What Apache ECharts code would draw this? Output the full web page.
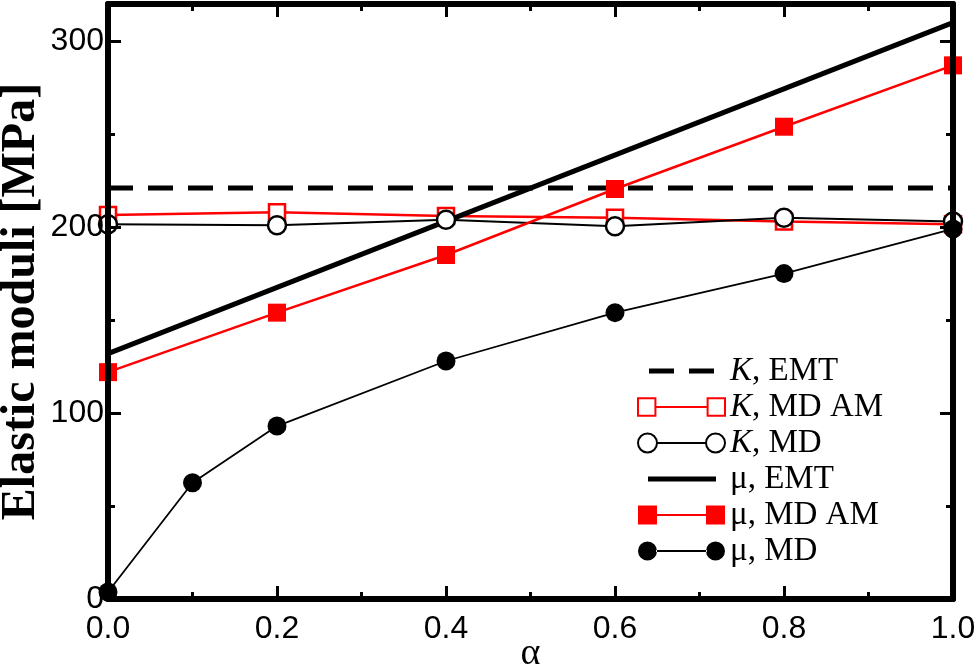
<!DOCTYPE html>
<html>
<head>
    <meta charset="utf-8">
    <title>Elastic moduli</title>
    <script src="https://cdn.jsdelivr.net/npm/echarts@6/dist/echarts.min.js"></script>
    <style>
        html, body { margin: 0; padding: 0; background: #fff; }
    </style>
</head>
<body>
<div id="main" style="width: 978px;height:666px;"></div>
<script>
    // alpha values
    var alphaMD = [0.0, 0.1, 0.2, 0.4, 0.6, 0.8, 1.0];
    var alphaAM = [0.0, 0.2, 0.4, 0.6, 0.8, 1.0];
    var alphaEMT = [0.0, 1.0];

    // (MPa)
    var kEMT = [221, 221];
    var kMDAM = [206.5, 208, 206, 205, 203, 201.5];
    var kMD = [201.5, 201, 204, 200.5, 205, 203];
    var muEMT = [132, 310];
    var muMDAM = [122, 154, 185, 220.5, 254, 287];
    var muMD = [3.8, 62.5, 93, 128, 154, 175, 199];

    var xTicks = ['0.0', '0.2', '0.4', '0.6', '0.8', '1.0'];
    var legendNames = ['K, EMT', 'K, MD AM', 'K, MD', 'μ, EMT', 'μ, MD AM', 'μ, MD'];

    function pairs(xs, ys) {
        var out = [];
        for (var i = 0; i < xs.length; i++) {
            out.push([xs[i], ys[i]]);
        }
        return out;
    }

    var tickFont = 'Liberation Sans';
    var serif = 'Liberation Serif';

    // legend icons: symbol - line - symbol, like the original plot
    var circ = function (x) { return 'M' + x + ',9.5a9.5,9.5 0 1,0 19,0a9.5,9.5 0 1,0 -19,0z'; };
    var icons = {
        dash: 'M0,7 L0.01,7z M11,7h25v5h-25z M51,7h25v5h-25z M87,7 L87.01,7z',
        solid: 'M0,7 L0.01,7z M10,7h68v5h-68z M87,7 L87.01,7z',
        openSq: 'M1,1h17v17h-17z M18,9.5h51v0.01h-51z M69,1h17v17h-17z',
        openCirc: circ(0) + ' M19,9.5h49v0.01h-49z ' + circ(68),
        fillSq: 'M0,0h19v19h-19z M19,8.5h49v2h-49z M68,0h19v19h-19z',
        fillCirc: circ(0) + ' M18,8.6h51v1.8h-51z ' + circ(68)
    };

    var frameLine = { show: true, onZero: false, lineStyle: { color: '#000', width: 6 } };

    function xAx(pos, labels) {
        return {
            type: 'value', position: pos, min: 0, max: 1, interval: 0.2, z: 5,
            axisLine: frameLine,
            axisTick: { inside: true, length: 13, lineStyle: { color: '#000', width: 3 } },
            minorTick: { show: true, splitNumber: 2, length: 7, lineStyle: { color: '#000', width: 3 } },
            splitLine: { show: false },
            axisLabel: {
                show: labels, margin: 14, color: '#000', fontFamily: tickFont, fontSize: 32,
                formatter: function (v) { return xTicks[Math.round(v / 0.2)]; }
            },
            name: labels ? 'α' : '', nameLocation: 'middle', nameGap: 36, nameMoveOverlap: false,
            nameTextStyle: { fontFamily: serif, fontSize: 38, color: '#000' }
        };
    }

    function yAx(pos, major, labels) {
        return {
            type: 'value', position: pos, min: 0, max: 320, interval: major ? 100 : 50, z: 5,
            axisLine: major ? frameLine : { show: false, onZero: false },
            axisTick: { inside: true, length: major ? 13 : 7, lineStyle: { color: '#000', width: 3 } },
            splitLine: { show: false },
            axisLabel: {
                show: labels, showMaxLabel: false, margin: 4, color: '#000',
                fontFamily: tickFont, fontSize: 32
            },
            name: labels ? 'Elastic moduli [MPa]' : '', nameLocation: 'middle', nameGap: 62, nameMoveOverlap: false,
            nameTextStyle: { fontFamily: serif, fontSize: 48, fontWeight: 'bold', color: '#000' }
        };
    }

    var myChart = echarts.init(document.getElementById('main'));
    var option = {
        animation: false,
        backgroundColor: '#fff',
        grid: { left: 108, right: 25, top: 4, bottom: 67, outerBoundsMode: 'none', containLabel: false },
        legend: {
            orient: 'vertical',
            left: 632,
            top: 349,
            itemWidth: 87,
            itemHeight: 19,
            itemGap: 2,
            data: [
                { name: legendNames[0], icon: 'path://' + icons.dash },
                { name: legendNames[1], icon: 'path://' + icons.openSq },
                { name: legendNames[2], icon: 'path://' + icons.openCirc },
                { name: legendNames[3], icon: 'path://' + icons.solid },
                { name: legendNames[4], icon: 'path://' + icons.fillSq },
                { name: legendNames[5], icon: 'path://' + icons.fillCirc }
            ],
            formatter: function (name) {
                if (name.charAt(0) === 'K') {
                    return '{i|K}' + name.slice(1);
                }
                return name;
            },
            textStyle: {
                fontFamily: serif, fontSize: 33, color: '#000', lineHeight: 34,
                rich: { i: { fontFamily: serif, fontSize: 33, fontStyle: 'italic', color: '#000' } }
            }
        },
        xAxis: [xAx('bottom', true), xAx('top', false)],
        yAxis: [yAx('left', true, true), yAx('left', false, false), yAx('right', true, false), yAx('right', false, false)],
        series: [
            {
                name: legendNames[0], type: 'line', data: pairs(alphaEMT, kEMT), symbol: 'none',
                lineStyle: { color: '#000', width: 5, type: [25, 15] }, itemStyle: { color: '#000' }
            },
            {
                name: legendNames[1], type: 'line', data: pairs(alphaAM, kMDAM),
                symbol: 'rect', symbolSize: 16,
                lineStyle: { color: '#ff0000', width: 2.5 },
                itemStyle: { color: '#fff', borderColor: '#ff0000', borderWidth: 2.5 }
            },
            {
                name: legendNames[2], type: 'line', data: pairs(alphaAM, kMD),
                symbol: 'circle', symbolSize: 18,
                lineStyle: { color: '#000', width: 2 },
                itemStyle: { color: '#fff', borderColor: '#000', borderWidth: 2.5 }
            },
            {
                name: legendNames[3], type: 'line', data: pairs(alphaEMT, muEMT), symbol: 'none',
                lineStyle: { color: '#000', width: 5 }, itemStyle: { color: '#000' }
            },
            {
                name: legendNames[4], type: 'line', data: pairs(alphaAM, muMDAM),
                symbol: 'rect', symbolSize: 18,
                lineStyle: { color: '#ff0000', width: 2.5 },
                itemStyle: { color: '#ff0000' }
            },
            {
                name: legendNames[5], type: 'line', data: pairs(alphaMD, muMD),
                symbol: 'circle', symbolSize: 19,
                lineStyle: { color: '#000', width: 1.8 },
                itemStyle: { color: '#000' }
            }
        ]
    };
    myChart.setOption(option);
</script>
</body>
</html>
